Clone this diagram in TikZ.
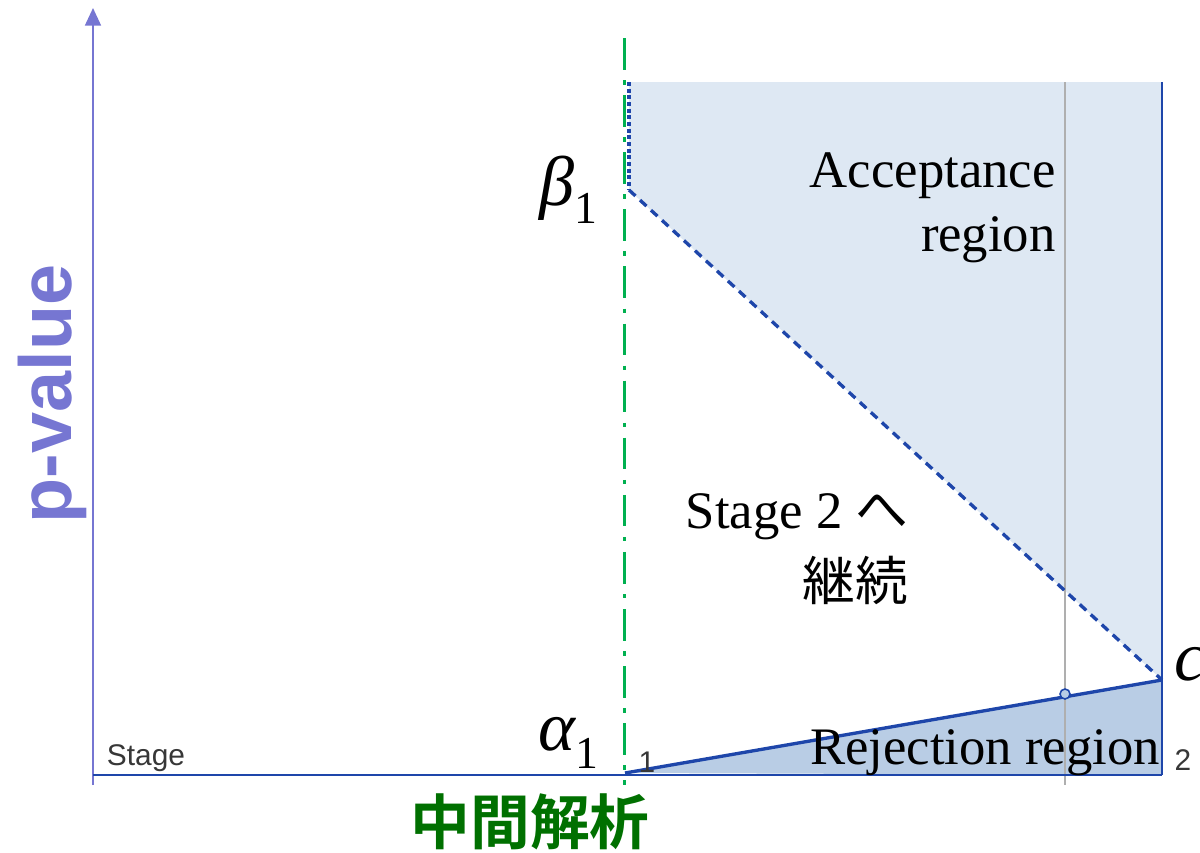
\documentclass[tikz,border=0pt]{standalone}
\usepackage{fontspec}
\setmainfont{Liberation Serif}
\setsansfont{Liberation Sans}
\newfontfamily\cjk{Noto Sans CJK JP}
\newfontfamily\cjkb{Noto Sans CJK JP Bold}
\usetikzlibrary{arrows.meta}
\definecolor{accfill}{RGB}{222,232,243}
\definecolor{rejfill}{RGB}{185,205,229}
\definecolor{dblue}{RGB}{30,70,170}
\definecolor{lav}{RGB}{118,118,210}
\definecolor{lgreen}{RGB}{0,176,80}
\definecolor{dgreen}{RGB}{0,112,0}
\definecolor{gline}{RGB}{175,175,175}
\definecolor{tgray}{RGB}{55,55,55}
\newcommand{\symsub}[1]{{\itshape #1}\raisebox{-10pt}{\fontsize{26}{28}\selectfont 1}}
\tikzset{
  lbl/.style={inner sep=0pt, font=\fontsize{30}{34}\selectfont},
  small/.style={inner sep=0pt, text=tgray, font=\sffamily\fontsize{17}{19}\selectfont},
  mathlbl/.style={inner sep=0pt, font=\fontsize{40}{44}\selectfont}
}
\begin{document}
\begin{tikzpicture}[x=0.02cm,y=-0.02cm]
\useasboundingbox (0,0) rectangle (1200,852);
% coordinates
\coordinate (o) at (93,775);
\coordinate (ytop) at (93,8);
\coordinate (ybot) at (93,785);
\coordinate (xend) at (1162,775);
\coordinate (gtop) at (624,38);
\coordinate (gbot) at (624,785);
\coordinate (a0) at (629,82);
\coordinate (b1) at (629,190);
\coordinate (cpt) at (1162,680);
\coordinate (rt) at (1162,82);
\coordinate (r0) at (625,773);
\coordinate (vtop) at (1065,82);
\coordinate (vbot) at (1065,785);
\coordinate (circ) at (1065,694);
% fills
\fill[accfill] (a0) -- (rt) -- (cpt) -- (b1) -- cycle;
\fill[rejfill] (r0) -- (cpt) -- (xend) -- cycle;
% gray vertical
\draw[gline, line width=1.2pt] (vtop) -- (vbot);
% axes
\draw[lav, line width=1.2pt, -{Triangle[length=10pt,width=9pt]}] (ybot) -- (ytop);
\draw[dblue, line width=1.2pt] (o) -- (xend);
% right edge
\draw[dblue, line width=1.2pt] (rt) -- (xend);
% green interim line
\draw[lgreen, line width=1.7pt, dash pattern=on 18pt off 6pt on 2.5pt off 6pt] (gtop) -- (gbot);
% boundaries
\draw[dblue, line width=1.8pt, dash pattern=on 2.2pt off 1.6pt] (a0) -- (b1);
\draw[dblue, line width=1.9pt, dash pattern=on 5pt off 3.5pt] (b1) -- (cpt);
\draw[dblue, line width=1.9pt] (r0) -- (cpt);
\draw[dblue, line width=0.9pt, fill=rejfill] (circ) circle (5);
% labels
\node[mathlbl] (beta) at (568,190) {\symsub{β}};
\node[mathlbl] (alpha) at (568,743) {\symsub{α}};
\node[mathlbl, anchor=west, font=\itshape\fontsize{40}{44}\selectfont] (c) at (1174,664) {c};
\node[lbl, anchor=east] (acc1) at (1056,176) {Acceptance};
\node[lbl, anchor=east] (acc2) at (1056,240) {region};
\node[lbl] (st2) at (797,517) {Stage 2 {\cjk へ}};
\node[lbl] (cont) at (855,580) {\cjk 継続};
\node[lbl] (rej) at (985,753) {Rejection region};
\node[small] (s1) at (647,762) {1};
\node[small] (s2) at (1183,760) {2};
\node[small] (stage) at (146,758) {Stage};
\node[inner sep=0pt, rotate=90, text=lav, font=\sffamily\bfseries\fontsize{42}{46}\selectfont] (pv) at (52,394) {p-value};
\node[inner sep=0pt, text=dgreen, font=\cjkb\fontsize{34}{40}\selectfont] (ia) at (530,822) {中間解析};
\end{tikzpicture}
\end{document}
